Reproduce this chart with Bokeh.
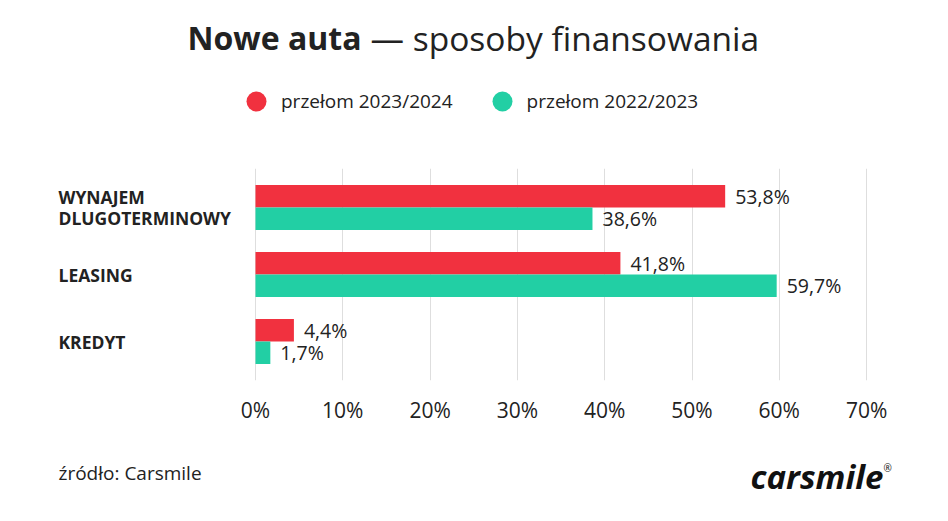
from bokeh.plotting import figure
from bokeh.layouts import column
from bokeh.models import (Range1d, FixedTicker, Legend, LegendItem, ColumnDataSource)
from bokeh.core.properties import value
from bokeh.embed import file_html
from bokeh.resources import INLINE

# ---- data ----
categories = ["WYNAJEM\nDLUGOTERMINOWY", "LEASING", "KREDYT"]
series_names = ["przełom 2023/2024", "przełom 2022/2023"]
values_2324 = [53.8, 41.8, 4.4]
values_2223 = [38.6, 59.7, 1.7]
x_ticks = [0, 10, 20, 30, 40, 50, 60, 70]
x_tick_labels = ["0%", "10%", "20%", "30%", "40%", "50%", "60%", "70%"]
title_bold = "Nowe auta"
title_rest = "— sposoby finansowania"
source_text = "źródło: Carsmile"
logo_text = "carsmile"

RED = "#f1313f"
GREEN = "#22cfa4"
TXT = "#222222"
FONT = "Open Sans"
W = 932


def pixel_fig(h):
    f = figure(width=W, height=h, output_backend="svg", toolbar_location=None,
               x_range=Range1d(0, W), y_range=Range1d(h, 0),
               min_border=0, min_border_left=0, min_border_right=0,
               min_border_top=0, min_border_bottom=0)
    f.axis.visible = False
    f.grid.visible = False
    f.outline_line_color = None
    return f


# ---- header: title + legend ----
HEAD_H = 160
head = pixel_fig(HEAD_H)
head.text(x=[187], y=[37], text=[title_bold], text_font=value(FONT),
          text_font_style="bold", text_font_size="32px", text_color=TXT,
          text_baseline="middle")
head.text(x=[370], y=[37], text=[title_rest], text_font=value(FONT),
          text_font_size="33.5px", text_color=TXT, text_baseline="middle")
# legend proxies (placed off-canvas; only their legend swatches are visible)
d1 = head.scatter(x=[-100], y=[-100], marker="circle", size=20, fill_color=RED, line_color=None)
d2 = head.scatter(x=[-100], y=[-100], marker="circle", size=20, fill_color=GREEN, line_color=None)
legend = Legend(items=[LegendItem(label=series_names[0], renderers=[d1]),
                       LegendItem(label=series_names[1], renderers=[d2])],
                orientation="horizontal", location=(231, 34),
                glyph_width=50, glyph_height=50, label_standoff=0, spacing=24,
                padding=0, margin=0, border_line_color=None,
                background_fill_alpha=0, label_text_font=FONT,
                label_text_font_size="19px", label_text_color=TXT)
head.add_layout(legend)

# ---- main chart ----
n = len(categories)
pos = [n - 1 - i for i in range(n)]
half = 0.168
bar_h = 0.336
PX = 8.73      # pixels per percentage point
X0 = 255       # pixel of 0%


def fmt(v):
    return f"{v:.1f}".replace(".", ",") + "%"


src_red = ColumnDataSource(dict(y=[p_ + half for p_ in pos], v=values_2324,
                                lab=[fmt(v) for v in values_2324]))
src_green = ColumnDataSource(dict(y=[p_ - half for p_ in pos], v=values_2223,
                                  lab=[fmt(v) for v in values_2223]))
src_cat = ColumnDataSource(dict(y=pos, lab=categories,
                                x=[-X0 / PX + 58 / PX] * n))

MAIN_H = 280
p = figure(width=W, height=MAIN_H, output_backend="svg", toolbar_location=None,
           x_range=Range1d(-X0 / PX, (W - X0) / PX),
           y_range=Range1d(-0.582, n - 1 + 0.582),
           min_border_left=0, min_border_right=0, min_border_top=8,
           min_border_bottom=60)
p.outline_line_color = None

p.hbar(y="y", right="v", left=0, height=bar_h, source=src_red,
       fill_color=RED, line_color=None)
p.hbar(y="y", right="v", left=0, height=bar_h, source=src_green,
       fill_color=GREEN, line_color=None)

for s in (src_red, src_green):
    p.text(x="v", y="y", text="lab", source=s, x_offset=10,
           text_baseline="middle", text_align="left",
           text_font_size="19.5px", text_color=TXT, text_font=value(FONT))

p.text(x="x", y="y", text="lab", source=src_cat, text_baseline="middle",
       text_align="left", text_font=value(FONT), text_font_style="bold",
       text_font_size="17.5px", text_color=TXT, text_line_height=0.85)

p.yaxis.visible = False
p.ygrid.visible = False
ax = p.xaxis[0]
ax.ticker = FixedTicker(ticks=x_ticks)
ax.major_label_overrides = {t: l for t, l in zip(x_ticks, x_tick_labels)}
ax.axis_line_color = None
ax.major_tick_line_color = None
ax.minor_tick_line_color = None
ax.major_tick_out = 0
ax.major_tick_in = 0
ax.major_label_standoff = 15
ax.major_label_text_font = FONT
ax.major_label_text_font_size = "21px"
ax.major_label_text_color = TXT
p.xgrid.ticker = FixedTicker(ticks=x_ticks)
p.xgrid.grid_line_color = "#dedede"
p.xgrid.grid_line_width = 1

# ---- footer ----
FOOT_H = 65
foot = figure(width=W, height=FOOT_H, output_backend="svg", toolbar_location=None,
              x_range=Range1d(0, W), y_range=Range1d(505, 440),
              min_border=0, min_border_left=0, min_border_right=0,
              min_border_top=0, min_border_bottom=0)
foot.axis.visible = False
foot.grid.visible = False
foot.outline_line_color = None
foot.text(x=[58], y=[472], text=[source_text], text_font=value(FONT),
          text_font_size="19px", text_color=TXT, text_baseline="middle")
foot.text(x=[750], y=[476], text=[logo_text], text_font=value(FONT),
          text_font_style="bold italic", text_font_size="33px", text_color="#111111",
          text_baseline="middle")
foot.text(x=[883], y=[467], text=["®"], text_font=value(FONT),
          text_font_size="10px", text_color="#111111", text_baseline="middle")

layout = column(head, p, foot, spacing=0)
open("out.html", "w").write(file_html(layout, INLINE))
